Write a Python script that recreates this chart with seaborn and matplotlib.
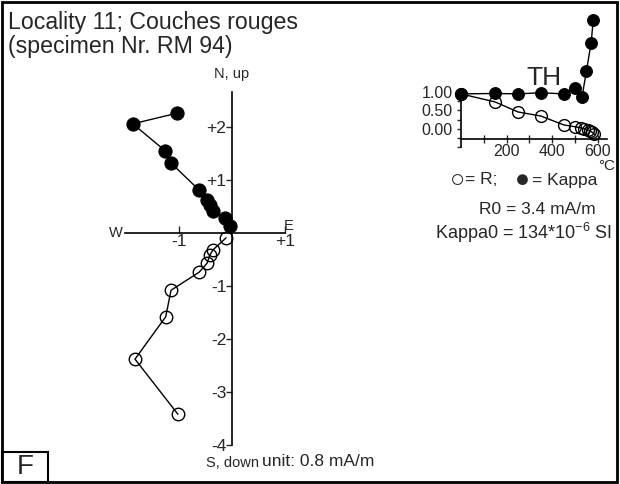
import numpy as np
import matplotlib
matplotlib.use("Agg")
import matplotlib.pyplot as plt
import seaborn as sns
from matplotlib.patches import Rectangle

# Zijderveld data (unit: 0.8 mA/m)
horiz_e = [-1.04, -1.87, -1.26, -1.15, -0.62, -0.47, -0.42, -0.36, -0.13, -0.04]
horiz_n = [2.26, 2.06, 1.55, 1.32, 0.81, 0.62, 0.53, 0.42, 0.28, 0.13]
vert_e = [-1.02, -1.83, -1.25, -1.15, -0.62, -0.47, -0.42, -0.36, -0.11]
vert_up = [-3.42, -2.38, -1.58, -1.08, -0.74, -0.57, -0.42, -0.32, -0.09]

# thermal demagnetisation (normalised)
kappa_temp = [0, 150, 250, 350, 450, 500, 530, 550, 570, 580]
kappa_val = [0.95, 0.96, 0.95, 0.98, 0.95, 1.11, 0.86, 1.57, 2.32, 2.95]
r_temp = [0, 150, 250, 350, 450, 500, 525, 540, 555, 565, 575, 585]
r_val = [0.95, 0.73, 0.46, 0.35, 0.11, 0.06, 0.03, 0.01, -0.02, -0.05, -0.09, -0.14]

zij_ticks = [-4, -3, -2, -1, 1, 2]
zij_tick_labels = ["-4", "-3", "-2", "-1", "+1", "+2"]

sns.set_style("white")
plt.rcParams["font.family"] = ["Liberation Sans", "DejaVu Sans"]
plt.rcParams["mathtext.fontset"] = "custom"
plt.rcParams["mathtext.rm"] = "Liberation Sans"
plt.rcParams["mathtext.it"] = "Liberation Sans"

W, H = 620, 484
fig = plt.figure(figsize=(W / 100, H / 100), dpi=100)


def fx(x):
    return x / W


def fy(y):
    return 1 - y / H


def place(x0, y0, x1, y1):
    return [fx(x0), fy(y1), (x1 - x0) / W, (y1 - y0) / H]


# main Zijderveld axes
ax = fig.add_axes(place(100, 60, 300, 460))
ax.set_facecolor("none")
ax.set_xlim(-2.49, 1.283)
ax.set_ylim(-4.283, 3.264)
sns.lineplot(x=horiz_e, y=horiz_n, sort=False, ax=ax, color="black", lw=1,
             marker="o", markersize=9.5, markerfacecolor="black",
             markeredgecolor="black", zorder=3)
sns.lineplot(x=vert_e, y=vert_up, sort=False, ax=ax, color="black", lw=1,
             marker="o", markersize=9, markerfacecolor="none",
             markeredgecolor="black", markeredgewidth=1, zorder=3)
for s in ["top", "right"]:
    ax.spines[s].set_visible(False)
ax.spines["left"].set_position(("data", 0))
ax.spines["bottom"].set_position(("data", 0))
ax.spines["left"].set_bounds(-4, 2.66)
ax.spines["bottom"].set_bounds(-2.02, 1.0)
for s in ["left", "bottom"]:
    ax.spines[s].set_color("black")
    ax.spines[s].set_linewidth(1.2)
ax.set_yticks(zij_ticks)
ax.set_yticklabels(zij_tick_labels)
ax.set_xticks([-1, 1])
ax.set_xticklabels(["-1", "+1"])
ax.tick_params(axis="y", direction="out", length=4, width=1, labelsize=12.5, pad=0, left=True)
ax.tick_params(axis="x", direction="in", length=5, width=1, labelsize=12.5, pad=1, bottom=True)
ax.set_xlabel("")
ax.set_ylabel("")

# inset: thermal curves
ins = fig.add_axes(place(440, 10, 615, 160))
ins.set_facecolor("none")
ins.set_xlim(-92, 675)
ins.set_ylim(-0.84, 3.22)
sns.lineplot(x=r_temp, y=r_val, sort=False, ax=ins, color="black", lw=1,
             marker="o", markersize=8.5, markerfacecolor="none",
             markeredgecolor="black", markeredgewidth=1, zorder=3)
sns.lineplot(x=kappa_temp, y=kappa_val, sort=False, ax=ins, color="black", lw=1,
             marker="o", markersize=8.5, markerfacecolor="black",
             markeredgecolor="black", zorder=3)
for s in ["top", "right"]:
    ins.spines[s].set_visible(False)
ins.spines["left"].set_position(("data", 0))
ins.spines["bottom"].set_position(("data", -0.27))
ins.spines["left"].set_bounds(-0.5, 1.0)
ins.spines["bottom"].set_bounds(0, 640)
for s in ["left", "bottom"]:
    ins.spines[s].set_color("black")
    ins.spines[s].set_linewidth(1.2)
ins.set_yticks([0.0, 0.5, 1.0])
ins.set_yticklabels(["0.00", "0.50", "1.00"])
ins.set_yticks([-0.5, -0.25, 0.25, 0.75], minor=True)
ins.set_xticks([200, 400, 600])
ins.set_xticks([100, 300, 500], minor=True)
ins.tick_params(axis="y", which="both", direction="out", length=3, width=1, labelsize=11.5, pad=3, left=True)
ins.tick_params(axis="x", which="both", direction="inout", length=6, width=1, labelsize=11.5, pad=1, bottom=True)
ins.set_xlabel("")
ins.set_ylabel("")

# texts
fig.text(fx(8), fy(22), "Locality 11; Couches rouges", fontsize=16.7, va="center", ha="left")
fig.text(fx(8), fy(46), "(specimen Nr. RM 94)", fontsize=16.7, va="center", ha="left")
fig.text(fx(232), fy(74), "N, up", fontsize=10.5, ha="center", va="center")
fig.text(fx(232), fy(463), "S, down", fontsize=10.5, ha="center", va="center")
fig.text(fx(116), fy(233), "W", fontsize=10.5, ha="center", va="center")
fig.text(fx(289), fy(226), "E", fontsize=10.5, ha="center", va="center")
fig.text(fx(262), fy(462), "unit: 0.8 mA/m", fontsize=12.5, ha="left", va="center")
fig.text(fx(544), fy(78), "TH", fontsize=19, ha="center", va="center")
fig.text(fx(607), fy(166), "°C", fontsize=11, ha="center", va="center")
fig.text(fx(457), fy(180), "○", fontsize=18, ha="center", va="center")
fig.text(fx(465), fy(180), "= R;", fontsize=12.5, ha="left", va="center")
fig.text(fx(522), fy(180), "●", fontsize=18, ha="center", va="center")
fig.text(fx(532), fy(180), "= Kappa", fontsize=12.5, ha="left", va="center")
fig.text(fx(596), fy(209), "R0 = 3.4 mA/m", fontsize=12.5, ha="right", va="center")
fig.text(fx(612), fy(233), "Kappa0 = 134*10$^{-6}$ SI", fontsize=13, ha="right", va="center")
fig.text(fx(25), fy(467), "F", fontsize=20, ha="center", va="center")

# frames
fig.patches.append(Rectangle((fx(2), fy(482)), fx(615), (480) / H, transform=fig.transFigure,
                             fill=False, edgecolor="black", lw=2))
fig.patches.append(Rectangle((fx(2), fy(482)), fx(46), 30 / H, transform=fig.transFigure,
                             fill=False, edgecolor="black", lw=1.5))

fig.savefig("out.png", dpi=100)
